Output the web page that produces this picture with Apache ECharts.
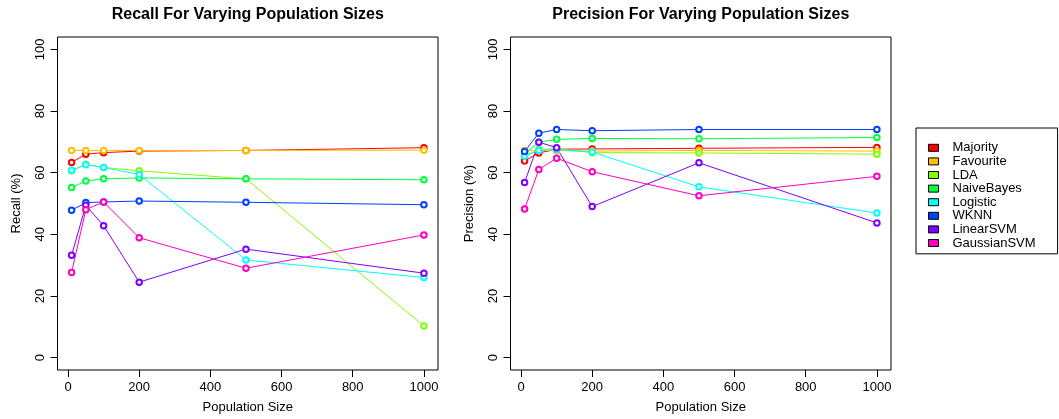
<!DOCTYPE html>
<html>
<head>
<meta charset="utf-8">
<script src="https://cdn.jsdelivr.net/npm/echarts@6/dist/echarts.min.js"></script>
<style>
html,body{margin:0;padding:0;background:#fff;}
#c{width:1059px;height:419px;}
</style>
</head>
<body>
<div id="c"></div>
<script>
const popSizes = [10, 50, 100, 200, 500, 1000];
const methods = ['Majority','Favourite','LDA','NaiveBayes','Logistic','WKNN','LinearSVM','GaussianSVM'];
const colors = ['#FF0000','#FFBF00','#80FF00','#00FF40','#00FFFF','#0040FF','#8000FF','#FF00BF'];
const xTicks = [0, 200, 400, 600, 800, 1000];
const yTicks = [0, 20, 40, 60, 80, 100];

const recallMajority    = [63.3, 66.0, 66.5, 67.0, 67.2, 68.1];
const recallFavourite   = [67.2, 67.2, 67.2, 67.2, 67.2, 67.3];
const recallLDA         = [60.6, 62.7, 61.7, 60.6, 58.0, 10.3];
const recallNaiveBayes  = [55.2, 57.3, 58.0, 58.3, 58.0, 57.7];
const recallLogistic    = [60.8, 62.6, 61.7, 59.4, 31.7, 26.0];
const recallWKNN        = [47.8, 50.3, 50.5, 50.8, 50.4, 49.6];
const recallLinearSVM   = [33.2, 49.4, 42.8, 24.5, 35.2, 27.4];
const recallGaussianSVM = [27.6, 48.0, 50.5, 38.9, 29.0, 39.8];

const precMajority    = [63.8, 66.4, 67.6, 67.7, 67.9, 68.2];
const precFavourite   = [67.2, 67.3, 67.2, 67.0, 67.2, 67.0];
const precLDA         = [65.5, 67.5, 67.8, 66.5, 66.4, 66.0];
const precNaiveBayes  = [66.0, 69.9, 70.8, 71.1, 71.0, 71.4];
const precLogistic    = [65.4, 67.2, 67.5, 66.7, 55.4, 46.9];
const precWKNN        = [66.9, 72.8, 74.0, 73.6, 74.0, 74.0];
const precLinearSVM   = [56.8, 69.9, 68.1, 49.0, 63.2, 43.7];
const precGaussianSVM = [48.2, 61.0, 64.7, 60.3, 52.5, 58.8];

const recallData = [recallMajority, recallFavourite, recallLDA, recallNaiveBayes, recallLogistic, recallWKNN, recallLinearSVM, recallGaussianSVM];
const precData = [precMajority, precFavourite, precLDA, precNaiveBayes, precLogistic, precWKNN, precLinearSVM, precGaussianSVM];

const FONT = 'Liberation Sans, Arial, Helvetica, sans-serif';

function mkX(idx) {
  return {
    type: 'value', gridIndex: idx, min: -29.6, max: 1039.6,
    name: 'Population Size', nameLocation: 'middle', nameGap: 31,
    nameTextStyle: { color: '#000', fontSize: 13, fontFamily: FONT },
    axisLine: { show: false, onZero: false },
    axisTick: { show: true, inside: false, length: 7, lineStyle: { color: '#000' }, customValues: xTicks },
    axisLabel: { color: '#000', fontSize: 13, fontFamily: FONT, margin: 11, customValues: xTicks,
      formatter: v => String(v) },
    splitLine: { show: false }
  };
}
function mkY(idx, name) {
  return {
    type: 'value', gridIndex: idx, min: -4, max: 104,
    name: name, nameLocation: 'middle', nameGap: 35, nameRotate: 90,
    nameTextStyle: { color: '#000', fontSize: 13, fontFamily: FONT },
    axisLine: { show: false, onZero: false },
    axisTick: { show: true, inside: false, length: 7, lineStyle: { color: '#000' }, customValues: yTicks },
    axisLabel: { color: '#000', fontSize: 13, fontFamily: FONT, margin: 11, rotate: 90, customValues: yTicks,
      formatter: v => String(v) },
    splitLine: { show: false }
  };
}

const series = [];
[recallData, precData].forEach((data, g) => {
  methods.forEach((m, i) => {
    series.push({
      name: m, type: 'line', xAxisIndex: g, yAxisIndex: g,
      data: popSizes.map((x, k) => [x, data[i][k]]),
      symbol: 'emptyCircle', symbolSize: 5.5, showSymbol: true,
      lineStyle: { width: 1, color: colors[i] },
      itemStyle: { color: colors[i], borderWidth: 0.65 },
      emphasis: { disabled: true },
      animation: false
    });
  });
});

const chart = echarts.init(document.getElementById('c'), null, { renderer: 'canvas' });
chart.setOption({
  backgroundColor: '#fff',
  animation: false,
  textStyle: { fontFamily: FONT },
  title: [
    { text: 'Recall For Varying Population Sizes', left: 247.8, top: 7, textAlign: 'center', padding: 0,
      textStyle: { fontSize: 16, fontWeight: 'bold', color: '#000', fontFamily: FONT } },
    { text: 'Precision For Varying Population Sizes', left: 700.8, top: 7, textAlign: 'center', padding: 0,
      textStyle: { fontSize: 16, fontWeight: 'bold', color: '#000', fontFamily: FONT } }
  ],
  grid: [
    { left: 57.5, top: 37, width: 380.5, height: 333, show: true, borderColor: '#000', borderWidth: 1, backgroundColor: 'transparent' },
    { left: 510.5, top: 37, width: 380.5, height: 333, show: true, borderColor: '#000', borderWidth: 1, backgroundColor: 'transparent' }
  ],
  xAxis: [mkX(0), mkX(1)],
  yAxis: [mkY(0, 'Recall (%)'), mkY(1, 'Precision (%)')],
  legend: {
    data: methods.map((m, i) => ({ name: m, itemStyle: { color: colors[i], borderColor: '#000', borderWidth: 1 } })),
    orient: 'vertical', left: 916, top: 128,
    padding: [13, 22, 4, 12],
    borderColor: '#000', borderWidth: 1,
    icon: 'rect', itemWidth: 10, itemHeight: 7, itemGap: 0,
    selectedMode: false,
    textStyle: { color: '#000', fontSize: 13, fontFamily: FONT, lineHeight: 13.6, padding: [0, 0, 0, 9] }
  },
  series: series
});
</script>
</body>
</html>
